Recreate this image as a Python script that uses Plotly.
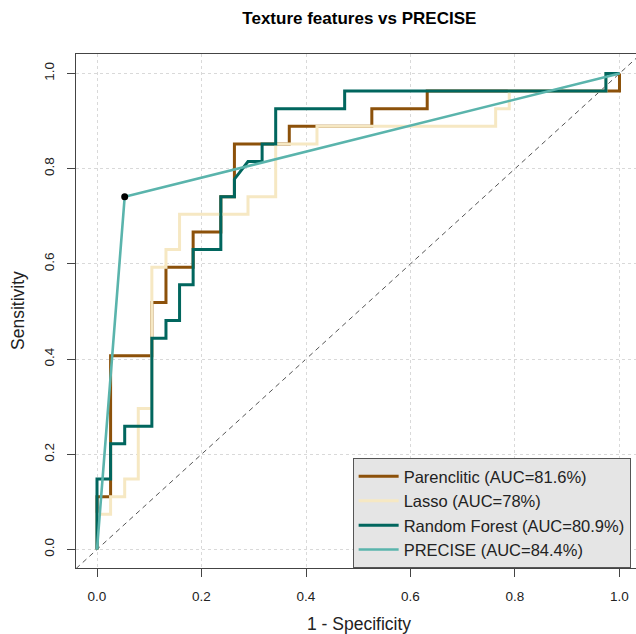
import plotly.graph_objects as go

# ROC curve vertices (1 - specificity, sensitivity)
par_fpr = [0, 0, 0.026, 0.026, 0.105, 0.105, 0.132, 0.132, 0.184, 0.184, 0.237, 0.237,
           0.263, 0.263, 0.368, 0.368, 0.526, 0.526, 0.632, 0.632, 1.0, 1.0]
par_tpr = [0, 0.111, 0.111, 0.407, 0.407, 0.519, 0.519, 0.593, 0.593, 0.667, 0.667, 0.741,
           0.741, 0.852, 0.852, 0.889, 0.889, 0.926, 0.926, 0.963, 0.963, 1.0]

las_fpr = [0, 0, 0.026, 0.026, 0.053, 0.053, 0.079, 0.079, 0.105, 0.105, 0.132, 0.132,
           0.158, 0.158, 0.289, 0.289, 0.342, 0.342, 0.421, 0.421, 0.763, 0.763,
           0.789, 0.789, 0.974, 0.974, 1.0]
las_tpr = [0, 0.074, 0.074, 0.111, 0.111, 0.148, 0.148, 0.296, 0.296, 0.593, 0.593, 0.630,
           0.630, 0.704, 0.704, 0.741, 0.741, 0.852, 0.852, 0.889, 0.889, 0.926,
           0.926, 0.963, 0.963, 1.0, 1.0]

rf_fpr = [0, 0, 0.026, 0.026, 0.053, 0.053, 0.105, 0.105, 0.132, 0.132, 0.158, 0.158,
          0.184, 0.184, 0.237, 0.237, 0.263, 0.263, 0.289, 0.316, 0.316, 0.342, 0.342,
          0.474, 0.474, 0.974, 0.974, 1.0]
rf_tpr = [0, 0.148, 0.148, 0.222, 0.222, 0.259, 0.259, 0.444, 0.444, 0.481, 0.481, 0.556,
          0.556, 0.630, 0.630, 0.741, 0.741, 0.778, 0.815, 0.815, 0.852, 0.852, 0.926,
          0.926, 0.963, 0.963, 1.0, 1.0]

pre_fpr = [0, 0.053, 1.0]
pre_tpr = [0, 0.741, 1.0]

cut_fpr = [0.053]
cut_tpr = [0.741]

names = ["Parenclitic (AUC=81.6%)", "Lasso (AUC=78%)",
         "Random Forest (AUC=80.9%)", "PRECISE (AUC=84.4%)"]
colors = ["#8C510A", "#F6E8C3", "#01665E", "#5AB4AC"]

tick_vals = [0.0, 0.2, 0.4, 0.6, 0.8, 1.0]
tick_text = ["0.0", "0.2", "0.4", "0.6", "0.8", "1.0"]

FONT = "Liberation Sans, Arial, Helvetica, sans-serif"

fig = go.Figure()
series = [(par_fpr, par_tpr), (las_fpr, las_tpr), (rf_fpr, rf_tpr), (pre_fpr, pre_tpr)]
widths = [3, 3, 3, 2.6]
for (xs, ys), nm, col, w in zip(series, names, colors, widths):
    fig.add_trace(go.Scatter(x=xs, y=ys, mode="lines", name=nm,
                             line=dict(color=col, width=w)))
fig.add_trace(go.Scatter(x=cut_fpr, y=cut_tpr, mode="markers", showlegend=False,
                         marker=dict(color="black", size=7)))

xr = [-0.0402, 1.0316]
yr = [-0.0389, 1.0409]
fig.add_shape(type="line", xref="x", yref="y", x0=-0.04, y0=-0.04, x1=1.04, y1=1.04,
              line=dict(color="#555555", width=1, dash="5px,4px"), layer="below")

axis_common = dict(
    tickvals=tick_vals, ticktext=tick_text, showgrid=True, gridcolor="#D9D9D9",
    griddash="dot", gridwidth=1, zeroline=False, showline=True, linecolor="#444444",
    linewidth=1, ticks="outside", ticklen=8, tickcolor="#444444",
    tickfont=dict(family=FONT, size=13.5, color="#222222"), ticklabelstandoff=8,
)
fig.update_xaxes(range=xr, mirror=True, **axis_common)
fig.update_yaxes(range=yr, tickangle=-90, **axis_common)

fig.update_layout(
    width=636, height=634,
    margin=dict(l=76, r=0, t=54, b=66),
    paper_bgcolor="white", plot_bgcolor="white",
    title=dict(text="<b>Texture features vs PRECISE</b>", x=0.565, xref="container",
               xanchor="center", y=1 - 18 / 634, yref="container", yanchor="middle",
               font=dict(family=FONT, size=17, color="black")),
    legend=dict(x=0.494, y=0, xanchor="left", yanchor="bottom", bgcolor="#E5E5E5",
                bordercolor="#555555", borderwidth=1, itemwidth=40,
                font=dict(family=FONT, size=16.5, color="#222222"),
                tracegroupgap=0),
    annotations=[
        dict(text="1 - Specificity", xref="paper", yref="paper", x=0.505, y=-0.109,
             xanchor="center", yanchor="middle", showarrow=False,
             font=dict(family=FONT, size=17.5, color="#222222")),
        dict(text="Sensitivity", xref="paper", yref="paper", x=-0.1036, y=0.502,
             xanchor="center", yanchor="middle", textangle=-90, showarrow=False,
             font=dict(family=FONT, size=17.5, color="#222222")),
    ],
    showlegend=True,
)

fig.write_html("out.html", config={"displayModeBar": False},
               post_script="document.body.style.margin='0px';document.body.style.overflow='hidden';")
